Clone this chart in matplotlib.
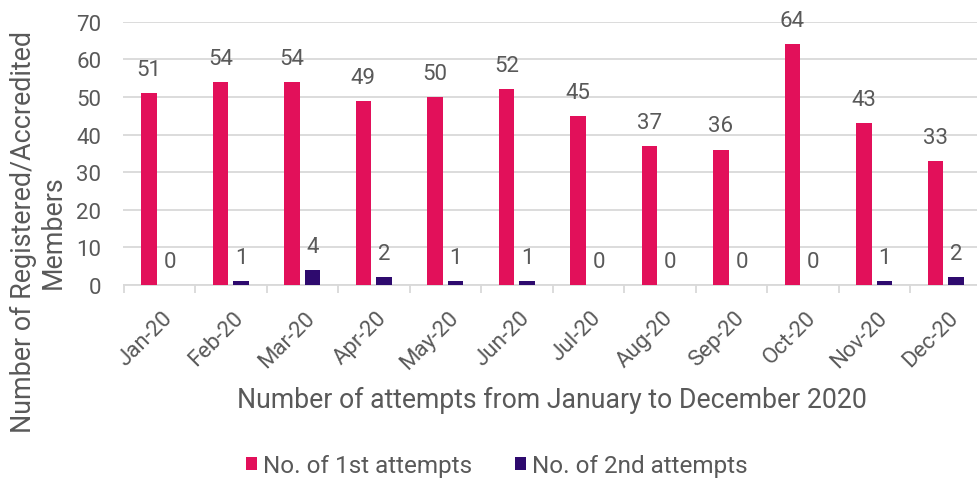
import matplotlib
matplotlib.use("Agg")
import matplotlib.pyplot as plt
import numpy as np
from matplotlib.transforms import ScaledTranslation

months = ["Jan-20", "Feb-20", "Mar-20", "Apr-20", "May-20", "Jun-20",
          "Jul-20", "Aug-20", "Sep-20", "Oct-20", "Nov-20", "Dec-20"]
first_attempts = [51, 54, 54, 49, 50, 52, 45, 37, 36, 64, 43, 33]
second_attempts = [0, 1, 4, 2, 1, 1, 0, 0, 0, 0, 1, 2]

PINK = "#E2105A"
NAVY = "#2E0A6E"
TXT = "#595959"
GRID = "#D9D9D9"

plt.rcParams["font.family"] = ["Roboto", "DejaVu Sans"]

fig = plt.figure(figsize=(9.77, 4.81), dpi=100)
W, H = 977, 481
left_px, right_px = 123.5, 981.5
top_px, bot_px = 22.7, 286.0
ax = fig.add_axes([left_px / W, 1 - bot_px / H, (right_px - left_px) / W, (bot_px - top_px) / H])

x = np.arange(len(months))
bw = 0.22
off = 0.145
b1 = ax.bar(x - off, first_attempts, bw, color=PINK, label="No. of 1st attempts", zorder=3)
b2 = ax.bar(x + off, second_attempts, bw, color=NAVY, label="No. of 2nd attempts", zorder=3)

for xi, v in zip(x - off, first_attempts):
    ax.annotate(str(v), (xi, v), xytext=(0, 17), textcoords="offset points",
                ha="center", va="center", fontsize=16, color=TXT)
for xi, v in zip(x + off, second_attempts):
    ax.annotate(str(v), (xi, v), xytext=(0, 17), textcoords="offset points",
                ha="center", va="center", fontsize=16, color=TXT)

ax.set_xlim(-0.5, len(months) - 0.5)
ax.set_ylim(0, 70)
ax.set_yticks(range(0, 71, 10))
ax.yaxis.grid(True, color=GRID, linewidth=1.3, zorder=0)
ax.set_axisbelow(True)
for s in ["top", "right", "left"]:
    ax.spines[s].set_visible(False)
ax.spines["bottom"].set_color(GRID)
ax.spines["bottom"].set_linewidth(1.3)

ax.tick_params(axis="y", length=0, pad=16, labelsize=16, labelcolor=TXT)
ax.set_xticks(x)
ax.set_xticklabels(months, rotation=45, ha="right", va="center",
                   rotation_mode="anchor", fontsize=16, color=TXT)
ax.tick_params(axis="x", which="major", length=0, pad=21)
ax.set_xticks(np.arange(-0.5, len(months), 1), minor=True)
ax.tick_params(axis="x", which="minor", length=6, width=1.3, color=GRID)
for lbl in ax.get_xticklabels():
    lbl.set_transform(lbl.get_transform() + ScaledTranslation(7 / 72, 0, fig.dpi_scale_trans))

fig.text(552 / W, 1 - 408 / H, "Number of attempts from January to December 2020",
         ha="center", va="baseline", fontsize=19.2, color=TXT)
fig.text(38 / W, 1 - 232 / H, "Number of Registered/Accredited\nMembers",
         rotation=90, ha="center", va="center", multialignment="center",
         fontsize=19.4, color=TXT, linespacing=1.12)

leg = fig.legend(handles=[b1, b2], loc="center", bbox_to_anchor=(497 / W, 1 - 467 / H),
                 ncol=2, frameon=False, fontsize=17.5, handlelength=0.45, handleheight=0.45,
                 handletextpad=0.25, columnspacing=1.75)
for t in leg.get_texts():
    t.set_color(TXT)

fig.savefig("out.png", dpi=100)
